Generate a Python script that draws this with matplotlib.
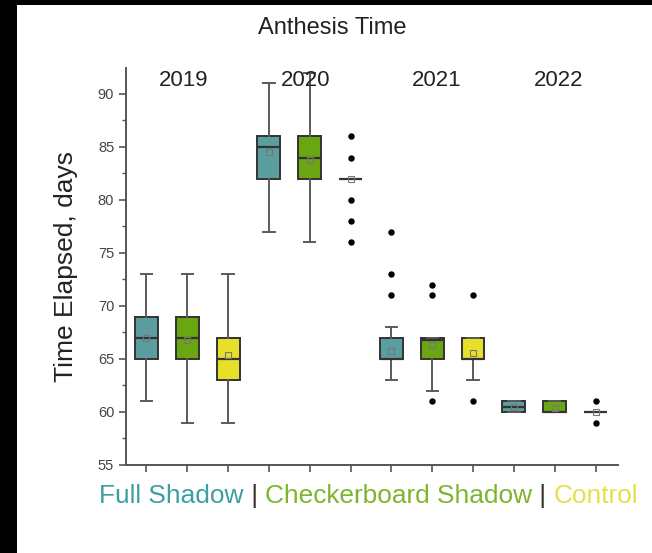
#!/usr/bin/env python3
import matplotlib
matplotlib.use("Agg")
import matplotlib.pyplot as plt
from matplotlib.patches import Rectangle
from matplotlib.ticker import MultipleLocator

plt.rcParams["font.family"] = ["Liberation Sans", "DejaVu Sans"]

# box summaries, one entry per box (2019..2022 x Full / Checkerboard / Control)
years = ["2019", "2020", "2021", "2022"]
groups = ["Full Shadow", "Checkerboard Shadow", "Control"]
whislo = [61, 59, 59, 77, 76, 82, 63, 62, 63, 60, 60, 60]
q1 = [65, 65, 63, 82, 82, 82, 65, 65, 65, 60, 60, 60]
med = [67, 67, 65, 85, 84, 82, 65, 66.8, 65, 60.5, 60, 60]
q3 = [69, 69, 67, 86, 86, 82, 67, 67, 67, 61, 61, 60]
whishi = [73, 73, 73, 91, 92, 82, 68, 67, 67, 61, 61, 60]
means = [67, 66.8, 65.4, 84.5, 83.8, 82, 65.8, 66.3, 65.6, 60.5, 60.4, 60]
fliers = [[], [], [], [], [], [86, 84, 80, 78, 76],
          [77, 73, 71], [72, 71, 61], [71, 61], [], [], [61, 59]]

box_colors = ["#5a9ea0", "#6aa512", "#e8df2a"]
text_colors = ["#3c9fa3", "#7db52e", "#e6df4a"]

stats = []
for i in range(len(q1)):
    stats.append(dict(whislo=whislo[i], q1=q1[i], med=med[i], q3=q3[i],
                      whishi=whishi[i], mean=means[i], fliers=fliers[i]))
pos = list(range(1, len(stats) + 1))

fig = plt.figure(figsize=(6.52, 5.53), dpi=100, facecolor="black")
fig.patches.append(Rectangle((17 / 652, 0), 1, 1 - 5 / 553, transform=fig.transFigure,
                             facecolor="white", edgecolor="none", zorder=-10))
ax = fig.add_axes([126 / 652, 1 - 465 / 553, (618 - 126) / 652, (465 - 68) / 553])
ax.set_facecolor("none")

bp = ax.bxp(stats, positions=pos, widths=0.56, patch_artist=True, showmeans=True,
            boxprops=dict(edgecolor="#333333", linewidth=1.4),
            medianprops=dict(color="#333333", linewidth=1.6),
            whiskerprops=dict(color="#5a5a5a", linewidth=1.4),
            capprops=dict(color="#5a5a5a", linewidth=1.4),
            meanprops=dict(marker="s", markersize=5, markerfacecolor="none",
                           markeredgecolor="#777777", markeredgewidth=0.8),
            flierprops=dict(marker="o", markersize=3.6, markerfacecolor="black",
                            markeredgecolor="black"))
for i, b in enumerate(bp["boxes"]):
    b.set_facecolor(box_colors[i % 3])

ax.set_xlim(0.5, 12.55)
ax.set_ylim(55, 92.45)
ax.set_xticks(pos)
ax.set_xticklabels([])
ax.yaxis.set_major_locator(MultipleLocator(5))
ax.yaxis.set_minor_locator(MultipleLocator(2.5))
for s in ["top", "right"]:
    ax.spines[s].set_visible(False)
for s in ["left", "bottom"]:
    ax.spines[s].set_color("#555555")
    ax.spines[s].set_linewidth(1.4)
ax.tick_params(axis="both", which="major", length=5, width=1.2, color="#555555",
               labelsize=10.5, labelcolor="#444444")
ax.tick_params(axis="y", which="minor", length=3, width=1, color="#555555")
ax.set_ylabel("Time Elapsed, days", fontsize=19, color="#222222", labelpad=14)

for x, yr in zip([1.91, 4.9, 8.12, 11.1], years):
    ax.text(x, 91.3, yr, fontsize=16, ha="center", va="center", color="#222222",
            zorder=5)

fig.text(332 / 652, 1 - 28 / 553, "Anthesis Time", fontsize=17, ha="center",
         va="center", color="#222222")

# colored legend line under the axis
parts = [(groups[0], text_colors[0]), (" | ", "#333333"), (groups[1], text_colors[1]),
         (" | ", "#333333"), (groups[2], text_colors[2])]
fig.canvas.draw()
r = fig.canvas.get_renderer()
x0 = 99
for s, c in parts:
    t = fig.text(x0 / 652, 1 - 496 / 553, s, fontsize=18.9, color=c, va="center",
                 ha="left")
    x0 += t.get_window_extent(r).width

fig.savefig("out.png", dpi=100, facecolor=fig.get_facecolor())
